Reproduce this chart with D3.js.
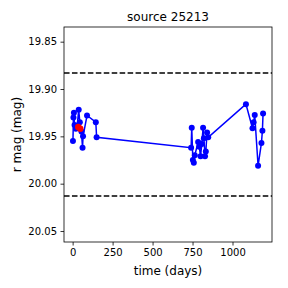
<!DOCTYPE html>
<html>
<head>
<meta charset="utf-8">
<script src="https://cdn.jsdelivr.net/npm/d3@7"></script>
<style>
  body { margin: 0; background: #fff; }
  svg { font-family: "DejaVu Sans", sans-serif; }
</style>
</head>
<body>
<svg width="288" height="288"></svg>
<script>
// observation times (days) and r magnitudes, in time order
const times = [2, 5, 8, 12, 20, 28, 38, 45, 55, 62, 65, 90, 145, 150,
               741, 745, 752, 758, 764, 785, 792, 800, 808, 816, 821, 828, 833, 841, 848,
               1084, 1125, 1132, 1139, 1160, 1181, 1187, 1191];
const mags = [19.955, 19.930, 19.925, 19.938, 19.942, 19.940, 19.922, 19.935, 19.945, 19.962, 19.950, 19.928, 19.935, 19.951,
              19.962, 19.941, 19.975, 19.978, 19.970, 19.956, 19.961, 19.971, 19.958, 19.941, 19.952, 19.971, 19.966, 19.946, 19.951,
              19.916, 19.9415, 19.935, 19.9275, 19.981, 19.957, 19.944, 19.926];
// highlighted points
const redTimes = [35, 48];
const redMags = [19.940, 19.942];
// dashed reference levels
const levels = [19.883, 20.013];

const xTicks = [0, 250, 500, 750, 1000];
const yTicks = [19.85, 19.90, 19.95, 20.00, 20.05];

const margin = { top: 27, right: 16, bottom: 46, left: 64 },
      width = 288 - margin.left - margin.right,
      height = 288 - margin.top - margin.bottom;

const svg = d3.select("svg");
const g = svg.append("g").attr("transform", `translate(${margin.left},${margin.top})`);

const x = d3.scaleLinear().domain([-54, 1247]).range([0, width]);
const y = d3.scaleLinear().domain([19.8345, 20.0616]).range([0, height]);

// dashed levels
g.selectAll(".level")
  .data(levels)
  .enter().append("line")
  .attr("x1", 0).attr("x2", width)
  .attr("y1", d => y(d)).attr("y2", d => y(d))
  .attr("stroke", "black")
  .attr("stroke-width", 1.5)
  .attr("stroke-dasharray", "5.55,2.4");

const pts = times.map((t, i) => [t, mags[i]]);
const line = d3.line().x(d => x(d[0])).y(d => y(d[1]));

g.append("path")
  .datum(pts)
  .attr("d", line)
  .attr("fill", "none")
  .attr("stroke", "blue")
  .attr("stroke-width", 1.5);

g.selectAll(".pt")
  .data(pts)
  .enter().append("circle")
  .attr("cx", d => x(d[0]))
  .attr("cy", d => y(d[1]))
  .attr("r", 3)
  .attr("fill", "blue");

g.selectAll(".red")
  .data(redTimes.map((t, i) => [t, redMags[i]]))
  .enter().append("circle")
  .attr("cx", d => x(d[0]))
  .attr("cy", d => y(d[1]))
  .attr("r", 3.2)
  .attr("fill", "red");

// frame
g.append("rect")
  .attr("width", width).attr("height", height)
  .attr("fill", "none").attr("stroke", "black").attr("stroke-width", 0.8);

const xAxis = g.append("g")
  .attr("transform", `translate(0,${height})`)
  .call(d3.axisBottom(x).tickValues(xTicks).tickSize(3.5).tickPadding(3.5).tickFormat(d3.format("d")));
const yAxis = g.append("g")
  .call(d3.axisLeft(y).tickValues(yTicks).tickSize(3.5).tickPadding(3.5).tickFormat(d3.format(".2f")));

[xAxis, yAxis].forEach(a => {
  a.select(".domain").remove();
  a.selectAll("line").attr("stroke", "black").attr("stroke-width", 0.8);
  a.selectAll("text").attr("font-size", 10).attr("fill", "black").attr("font-family", "DejaVu Sans");
});

svg.append("text")
  .attr("x", margin.left + width / 2).attr("y", 21)
  .attr("text-anchor", "middle")
  .attr("font-size", 12)
  .text("source 25213");

svg.append("text")
  .attr("x", margin.left + width / 2).attr("y", 275)
  .attr("text-anchor", "middle")
  .attr("font-size", 12)
  .text("time (days)");

svg.append("text")
  .attr("transform", `translate(21,${margin.top + height / 2}) rotate(-90)`)
  .attr("text-anchor", "middle")
  .attr("font-size", 12)
  .text("r mag (mag)");
</script>
</body>
</html>
